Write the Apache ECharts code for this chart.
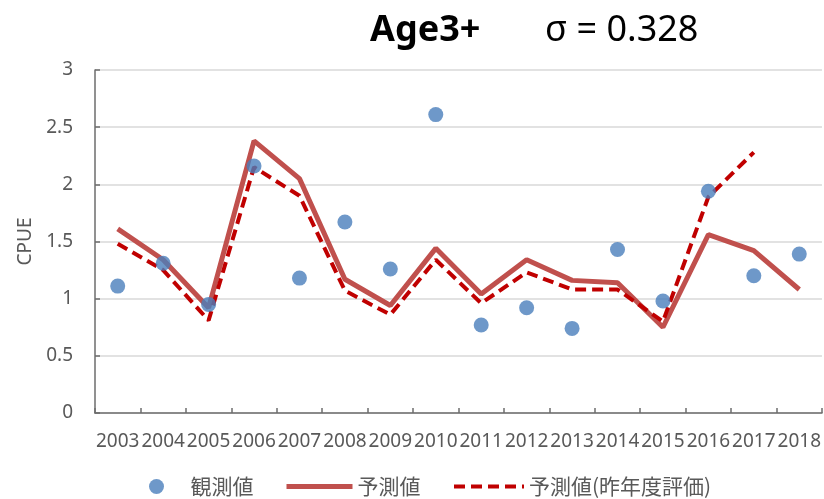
<!DOCTYPE html>
<html>
<head>
<meta charset="utf-8">
<script src="https://cdn.jsdelivr.net/npm/echarts@6/dist/echarts.min.js"></script>
<style>
  html, body { margin: 0; padding: 0; background: #fff; }
  #chart { width: 824px; height: 499px; }
</style>
</head>
<body>
<div id="chart"></div>
<script>
// Survey years on the x axis
const years = ['2003', '2004', '2005', '2006', '2007', '2008', '2009', '2010',
    '2011', '2012', '2013', '2014', '2015', '2016', '2017', '2018'];

// 観測値 (observed CPUE)
const observed = [1.11, 1.31, 0.95, 2.16, 1.18, 1.67, 1.26, 2.61,
    0.77, 0.92, 0.74, 1.43, 0.98, 1.94, 1.20, 1.39];

// 予測値 (this year's model)
const predicted = [1.61, 1.34, 0.92, 2.38, 2.05, 1.17, 0.94, 1.44,
    1.04, 1.34, 1.16, 1.14, 0.75, 1.56, 1.42, 1.08];

// 予測値(昨年度評価) (last year's assessment, ends in 2017)
const predictedPrev = [1.48, 1.25, 0.81, 2.15, 1.90, 1.07, 0.86, 1.34,
    0.96, 1.23, 1.08, 1.08, 0.80, 1.89, 2.28, null];

const yTicks = { min: 0, max: 3, interval: 0.5 };

const labelColor = '#595959';
const axisColor = '#6d6d6d';
const font = '"Noto Sans", sans-serif';
const cjkFont = '"Noto Sans CJK JP", "Noto Sans", sans-serif';

const chart = echarts.init(document.getElementById('chart'));

const legendText = { fontFamily: cjkFont, fontSize: 21, color: labelColor };

const option = {
    animation: false,
    title: [{
        text: 'Age3+',
        left: 370,
        top: 13,
        padding: 0,
        textStyle: { fontFamily: font, fontSize: 36, fontWeight: 'bold', color: '#000' }
    }, {
        text: 'σ = 0.328',
        left: 545,
        top: 13,
        padding: 0,
        textStyle: { fontFamily: font, fontSize: 36, fontWeight: 'normal', color: '#000' }
    }],
    legend: [{
        data: ['観測値'],
        left: 149,
        top: 476,
        padding: 0,
        itemWidth: 58,
        itemHeight: 15,
        icon: 'circle',
        textStyle: legendText
    }, {
        // line icon only, hide the marker dot
        data: [{ name: '予測値', itemStyle: { opacity: 0 } }],
        left: 284,
        top: 476,
        padding: 0,
        itemWidth: 66,
        itemHeight: 15,
        lineStyle: { width: 5 },
        textStyle: legendText
    }, {
        data: [{ name: '予測値(昨年度評価)', itemStyle: { opacity: 0 } }],
        left: 452,
        top: 476,
        padding: 0,
        itemWidth: 70,
        itemHeight: 15,
        lineStyle: { width: 4 },
        textStyle: legendText
    }],
    grid: {
        left: 95,
        right: 2,
        top: 70,
        bottom: 86
    },
    xAxis: {
        type: 'category',
        data: years,
        boundaryGap: true,
        axisLine: { show: true, lineStyle: { color: axisColor, width: 1.5 } },
        axisTick: { show: true, inside: true, length: 5, lineStyle: { color: axisColor, width: 1.5 } },
        axisLabel: {
            interval: 0,
            margin: 19,
            fontFamily: font,
            fontSize: 19,
            color: labelColor
        },
        splitLine: { show: false }
    },
    yAxis: {
        type: 'value',
        min: yTicks.min,
        max: yTicks.max,
        interval: yTicks.interval,
        name: 'CPUE',
        nameLocation: 'middle',
        nameGap: 58,
        nameTextStyle: { fontFamily: font, fontSize: 19, color: labelColor },
        axisLine: { show: true, lineStyle: { color: axisColor, width: 1.5 } },
        axisTick: { show: true, inside: true, length: 5, lineStyle: { color: axisColor, width: 1.5 } },
        axisLabel: {
            margin: 22,
            fontFamily: font,
            fontSize: 19,
            color: labelColor
        },
        splitLine: { show: true, lineStyle: { color: '#d9d9d9', width: 1.5 } }
    },
    series: [{
        name: '予測値',
        type: 'line',
        data: predicted,
        symbol: 'none',
        z: 2,
        itemStyle: { color: '#c0504d' },
        lineStyle: { color: '#c0504d', width: 5 }
    }, {
        name: '予測値(昨年度評価)',
        type: 'line',
        data: predictedPrev,
        symbol: 'none',
        z: 3,
        itemStyle: { color: '#c00000' },
        lineStyle: { color: '#c00000', width: 4, type: [11, 6] }
    }, {
        name: '観測値',
        type: 'scatter',
        data: observed,
        symbol: 'circle',
        symbolSize: 15,
        z: 4,
        itemStyle: { color: '#4a7ebb' }
    }]
};

chart.setOption(option);
</script>
</body>
</html>
